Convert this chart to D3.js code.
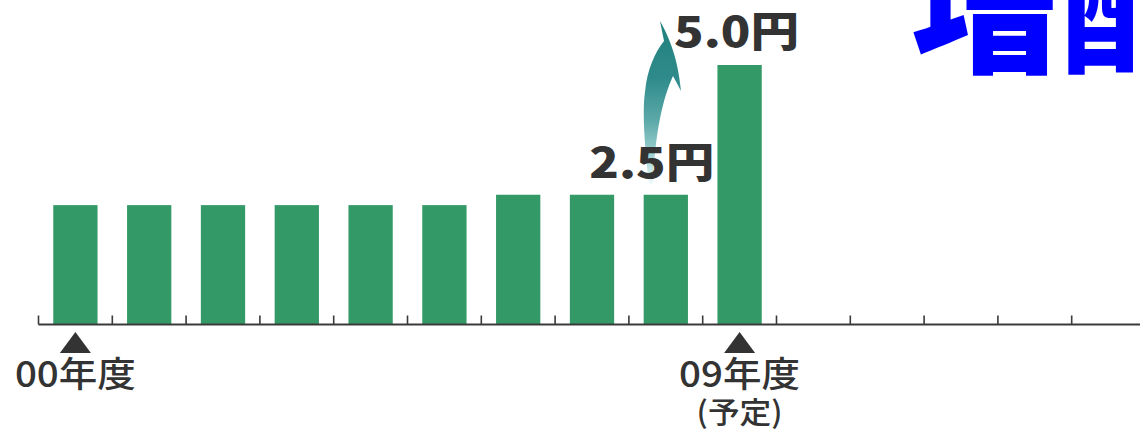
<!DOCTYPE html>
<html>
<head>
<meta charset="utf-8">
<script src="https://cdn.jsdelivr.net/npm/d3@7"></script>
<style>
  html, body { margin: 0; padding: 0; background: #fff; }
  svg { display: block; }
</style>
</head>
<body>
<svg id="chart" width="1140" height="431"></svg>
<script>
// Fiscal years on the axis (the axis runs on past the last reported year)
const categories = ["00", "01", "02", "03", "04", "05", "06", "07", "08", "09",
                    "10", "11", "12", "13", "14"];
// Dividend per share (yen), FY2000–FY2009 (FY2009 planned)
const dividends = [2.3, 2.3, 2.3, 2.3, 2.3, 2.3, 2.5, 2.5, 2.5, 5.0];
// Marked years below the axis
const markedYears = [
  { year: "00", label: "00年度", note: null },
  { year: "09", label: "09年度", note: "(予定)" }
];
// Callout values above the bars
const callouts = [
  { year: "08", value: 2.5, text: "2.5円" },
  { year: "09", value: 5.0, text: "5.0円" }
];
const headline = "増配";

const svg = d3.select("#chart");
const W = 1140, H = 431;
const baseY = 324.5;

const x = d3.scaleBand()
  .domain(categories)
  .range([38.5, 38.5 + categories.length * 73.8])
  .paddingInner(0.4)
  .paddingOuter(0.2);

const y = d3.scaleLinear().domain([0, 5]).range([baseY, 65]);

const step = x.step();
const half = step * x.paddingInner() / 2;

// Gradient for the rising arrow
const defs = svg.append("defs");
const grad = defs.append("linearGradient")
  .attr("id", "arrowGrad")
  .attr("x1", 0).attr("y1", 0).attr("x2", 0).attr("y2", 1);
grad.append("stop").attr("offset", "0%").attr("stop-color", "#1f807c");
grad.append("stop").attr("offset", "35%").attr("stop-color", "#2f8b8b");
grad.append("stop").attr("offset", "62%").attr("stop-color", "#5eaaaa");
grad.append("stop").attr("offset", "85%").attr("stop-color", "#a9d8d8");
grad.append("stop").attr("offset", "100%").attr("stop-color", "#f2fbfb");

// Headline
svg.append("text")
  .attr("x", 911)
  .attr("y", 61)
  .attr("font-family", "'Noto Sans CJK JP', sans-serif")
  .attr("font-weight", 900)
  .attr("font-size", 150)
  .attr("fill", "#0000ff")
  .text(headline);

// Bars
svg.append("g")
  .selectAll("rect")
  .data(dividends)
  .join("rect")
  .attr("x", (d, i) => x(categories[i]))
  .attr("y", d => y(d))
  .attr("width", x.bandwidth())
  .attr("height", d => baseY - y(d))
  .attr("fill", "#339966");

// Axis baseline and upward ticks at cell boundaries
const axis = svg.append("g").attr("stroke", "#3a3a3a");
axis.append("line")
  .attr("x1", x(categories[0]) - half)
  .attr("x2", W)
  .attr("y1", baseY).attr("y2", baseY)
  .attr("stroke-width", 2);
axis.selectAll("line.tick")
  .data(categories)
  .join("line")
  .attr("class", "tick")
  .attr("x1", d => x(d) - half)
  .attr("x2", d => x(d) - half)
  .attr("y1", baseY)
  .attr("y2", baseY - 9)
  .attr("stroke-width", 1.6);

// Markers and labels below the axis
const marks = svg.append("g");
markedYears.forEach(m => {
  const cx = x(m.year) + x.bandwidth() / 2;
  marks.append("path")
    .attr("d", `M${cx},${332} L${cx + 15.5},${353} L${cx - 15.5},${353} Z`)
    .attr("fill", "#333");
  marks.append("text")
    .attr("x", cx)
    .attr("y", 387)
    .attr("text-anchor", "middle")
    .attr("font-family", "'Noto Sans CJK JP', sans-serif")
    .attr("font-weight", 500)
    .attr("font-size", 35)
    .attr("textLength", 121)
    .attr("lengthAdjust", "spacingAndGlyphs")
    .attr("fill", "#333")
    .text(m.label);
  if (m.note) {
    marks.append("text")
      .attr("x", cx)
      .attr("y", 423)
      .attr("text-anchor", "middle")
      .attr("font-family", "'Noto Sans CJK JP', sans-serif")
      .attr("font-weight", 500)
      .attr("font-size", 30)
      .attr("textLength", 86)
      .attr("lengthAdjust", "spacingAndGlyphs")
      .attr("fill", "#333")
      .text(m.note);
  }
});

// Rising arrow between the two callouts
svg.append("path")
  .attr("d", "M660,21 C669,37 678,58 681,91 L673,76 C663,98 655,132 653,184 L649,184 C645,150 642,112 645,92 C647,70 655,52 664,41 Z")
  .attr("fill", "url(#arrowGrad)");

// Value callouts
const calloutPos = { "08": { dx: -14, dy: -17 }, "09": { dx: -3, dy: -18 } };
callouts.forEach(c => {
  const cx = x(c.year) + x.bandwidth() / 2 + calloutPos[c.year].dx;
  svg.append("text")
    .attr("x", cx)
    .attr("y", y(c.value) + calloutPos[c.year].dy)
    .attr("text-anchor", "middle")
    .attr("font-family", "'Noto Sans CJK JP', sans-serif")
    .attr("font-weight", 900)
    .attr("font-size", 42)
    .attr("textLength", 125)
    .attr("lengthAdjust", "spacingAndGlyphs")
    .attr("fill", "#333")
    .text(c.text);
});
</script>
</body>
</html>
